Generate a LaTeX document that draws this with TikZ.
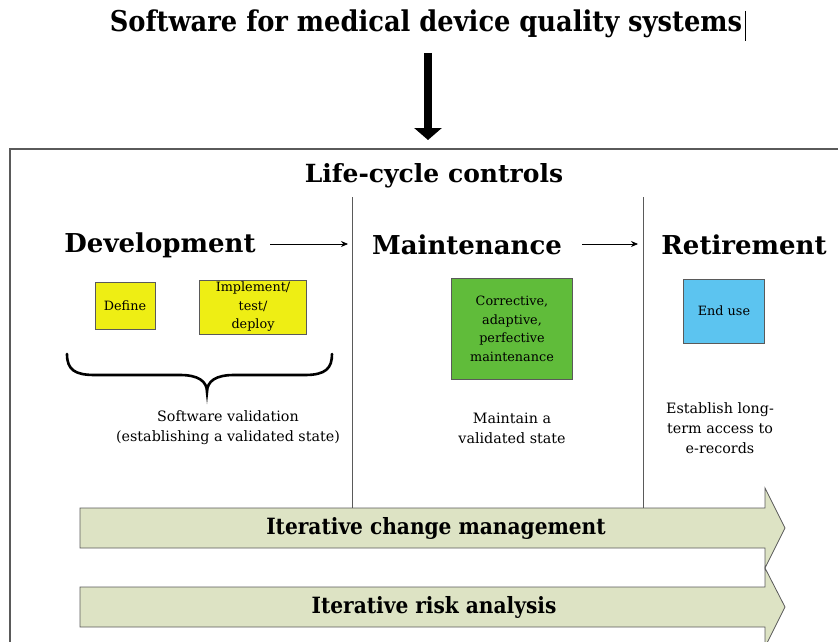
\documentclass[tikz,border=0pt]{standalone}
\usepackage{fontspec}
\setmainfont{DejaVu Serif}
\newfontfamily\condf{DejaVu Serif Condensed}
\usetikzlibrary{arrows.meta}
\definecolor{bandfill}{RGB}{221,227,196}
\definecolor{yellowbox}{RGB}{238,238,20}
\definecolor{greenbox}{RGB}{96,188,58}
\definecolor{bluebox}{RGB}{92,196,240}
\definecolor{framegray}{RGB}{90,90,90}
\tikzset{
  heading/.style={font=\bfseries\fontsize{26}{30}\selectfont, inner sep=0pt},
  phasebox/.style={draw=framegray, line width=0.6pt, align=center, inner sep=0pt, font=\fontsize{12.8}{18.5}\selectfont},
  desc/.style={align=center, inner sep=0pt, font=\fontsize{14.3}{20}\selectfont},
  band/.style={fill=bandfill, draw=framegray, line width=0.8pt},
  bandlabel/.style={font=\condf\bfseries\fontsize{22.4}{26}\selectfont, inner sep=0pt},
  smallarrow/.style={-{Stealth[length=7pt,width=6pt]}, line width=0.8pt},
  divider/.style={draw=framegray, line width=0.8pt}
}
\begin{document}
\begin{tikzpicture}[x=1pt,y=-1pt]
\useasboundingbox (0,0) rectangle (838,642);
% title
\node[font=\condf\bfseries\fontsize{28.6}{32}\selectfont, inner sep=0pt] (title) at (426,24) {Software for medical device quality systems};
\draw[line width=0.8pt] (745,11) -- (745,41);
\coordinate (arrtop) at (428,53);
\coordinate (arrbot) at (428,140);
\draw[line width=8pt, -{Triangle[width=27pt,length=12pt]}] (arrtop) -- (arrbot);
% main frame
\draw[framegray, line width=1.3pt] (840,149) -- (10,149) -- (10,645);
\node[font=\bfseries\fontsize{25}{29}\selectfont, inner sep=0pt] (lcc) at (434,176) {Life-cycle controls};
% dividers
\draw[divider] (352,197) -- (352,508);
\draw[divider] (643,197) -- (643,508);
% headings
\node[heading] (dev) at (160,245) {Development};
\node[heading] (mai) at (467,245) {Maintenance};
\node[heading] (ret) at (744,245) {Retirement};
\coordinate (a1s) at (270,244); \coordinate (a1e) at (348,244);
\coordinate (a2s) at (582,244); \coordinate (a2e) at (638,244);
\draw[smallarrow] (a1s) -- (a1e);
\draw[smallarrow] (a2s) -- (a2e);
% boxes
\node[phasebox, fill=yellowbox, minimum width=60pt, minimum height=47pt] (define) at (125,306) {Define};
\node[phasebox, fill=yellowbox, minimum width=107pt, minimum height=54pt] (impl) at (253,307) {Implement/\\test/\\deploy};
\node[phasebox, fill=greenbox, minimum width=121pt, minimum height=101pt] (corr) at (512,329) {Corrective,\\adaptive,\\perfective\\maintenance};
\node[phasebox, fill=bluebox, minimum width=81pt, minimum height=64pt] (end) at (724,311) {End use};
% brace
\draw[line width=2.6pt, line cap=round] (67,354) .. controls (67,370) and (75,375) .. (95,375) -- (180,375) .. controls (198,375) and (207,381) .. (207,392) .. controls (207,381) and (216,375) .. (234,375) -- (305,375) .. controls (326,375) and (332,368) .. (332,354);
% descriptions
\node[desc] (sv) at (228,428) {Software validation\\(establishing a validated state)};
\node[desc] (mv) at (512,428) {Maintain a\\validated state};
\node[desc] (el) at (720,428) {Establish long-\\term access to\\e-records};
% bands
\path[band] (80,508) -- (765,508) -- (765,488) -- (785,528) -- (765,568) -- (765,548) -- (80,548) -- cycle;
\path[band] (80,587) -- (765,587) -- (765,568) -- (785,607) -- (765,647) -- (765,627) -- (80,627) -- cycle;
\node[bandlabel] (icm) at (436,528) {Iterative change management};
\node[bandlabel] (ira) at (434,607) {Iterative risk analysis};
\end{tikzpicture}
\end{document}
